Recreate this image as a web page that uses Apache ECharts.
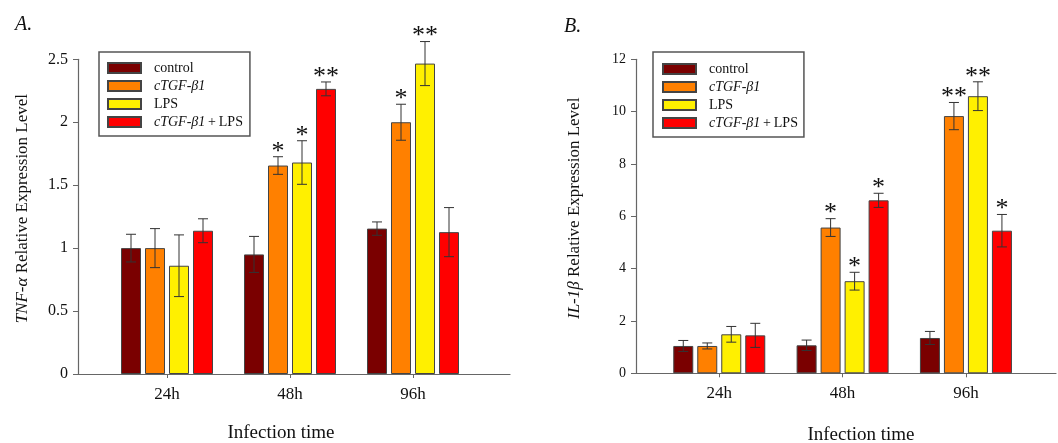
<!DOCTYPE html>
<html>
<head>
<meta charset="utf-8">
<script src="https://cdn.jsdelivr.net/npm/echarts@6/dist/echarts.min.js"></script>
<style>
  html, body { margin: 0; padding: 0; background: #fff; }
  #chart { width: 1058px; height: 443px; }
</style>
</head>
<body>
<div id="chart"></div>
<script>
  // data
  var categories = ['24h', '48h', '96h'];
  var groupNames = ['control', 'cTGF-β1', 'LPS', 'cTGF-β1+LPS'];
  var groupColors = ['#7a0000', '#ff8000', '#fff000', '#ff0000'];

  // A. TNF-alpha
  var tnfControl = [1.00, 0.95, 1.155];
  var tnfControlErr = [0.11, 0.143, 0.053];
  var tnfCtgf = [1.00, 1.656, 2.00];
  var tnfCtgfErr = [0.155, 0.07, 0.143];
  var tnfLps = [0.86, 1.68, 2.466];
  var tnfLpsErr = [0.245, 0.173, 0.175];
  var tnfCombo = [1.138, 2.265, 1.127];
  var tnfComboErr = [0.095, 0.055, 0.195];
  var tnfSig = [['', '', ''], ['', '*', '*'], ['', '*', '**'], ['', '**', '']];
  var tnfTicks = [0, 0.5, 1, 1.5, 2, 2.5];

  // B. IL-1beta
  var ilControl = [1.045, 1.07, 1.35];
  var ilControlErr = [0.21, 0.2, 0.25];
  var ilCtgf = [1.045, 5.57, 9.83];
  var ilCtgfErr = [0.115, 0.34, 0.52];
  var ilLps = [1.49, 3.52, 10.59];
  var ilLpsErr = [0.3, 0.34, 0.55];
  var ilCombo = [1.45, 6.61, 5.45];
  var ilComboErr = [0.46, 0.27, 0.62];
  var ilSig = [['', '', ''], ['', '*', '**'], ['', '*', '**'], ['', '*', '*']];
  var ilTicks = [0, 2, 4, 6, 8, 10, 12];

  var serif = "'Liberation Serif', 'Times New Roman', serif";
  var axisColor = '#666';
  var BAR_W = 20, BAR_STEP = 24;

  function legendFormatter(name) {
    if (name === 'cTGF-β1') return '{i|cTGF-β1}';
    if (name === 'cTGF-β1+LPS') return '{i|cTGF-β1}{n|\u2009+\u2009LPS}';
    return '{n|' + name + '}';
  }

  function errorBarSeries(name, xIdx, yIdx, k, vals, errs, sigs) {
    var data = vals.map(function (v, i) { return [i, v, errs[i], sigs[i]]; });
    return {
      type: 'custom',
      name: name + ' err',
      xAxisIndex: xIdx,
      yAxisIndex: yIdx,
      z: 5,
      silent: true,
      data: data,
      renderItem: function (params, api) {
        var v = api.value(1), e = api.value(2);
        var sig = data[params.dataIndex][3];
        var top = api.coord([api.value(0), v + e]);
        var bot = api.coord([api.value(0), v - e]);
        var x = top[0] + (k - 1.5) * BAR_STEP;
        var st = { stroke: '#333', lineWidth: 1 };
        var kids = [
          { type: 'line', shape: { x1: x, y1: top[1], x2: x, y2: bot[1] }, style: st },
          { type: 'line', shape: { x1: x - 5, y1: top[1], x2: x + 5, y2: top[1] }, style: st },
          { type: 'line', shape: { x1: x - 5, y1: bot[1], x2: x + 5, y2: bot[1] }, style: st }
        ];
        if (sig) {
          kids.push({
            type: 'text',
            style: {
              x: x, y: top[1] - 5, text: sig, fill: '#111',
              font: '26px ' + serif, align: 'center', verticalAlign: 'middle'
            }
          });
        }
        return { type: 'group', children: kids };
      }
    };
  }

  function panel(prefix, xIdx, yIdx, sets, errs, sigs) {
    var out = [];
    sets.forEach(function (vals, k) {
      out.push({
        type: 'bar',
        name: groupNames[k],
        xAxisIndex: xIdx,
        yAxisIndex: yIdx,
        barWidth: BAR_W,
        barGap: '20%',
        itemStyle: { color: groupColors[k], borderColor: '#444', borderWidth: 1 },
        data: vals
      });
    });
    sets.forEach(function (vals, k) {
      out.push(errorBarSeries(prefix + groupNames[k], xIdx, yIdx, k, vals, errs[k], sigs[k]));
    });
    return out;
  }

  function legendFor(left, top, padding) {
    return {
      data: groupNames,
      orient: 'vertical',
      left: left,
      top: top,
      icon: 'rect',
      itemWidth: 33,
      itemHeight: 10,
      itemGap: 4,
      padding: padding,
      borderColor: '#555',
      borderWidth: 1.5,
      selectedMode: false,
      formatter: legendFormatter,
      textStyle: {
        fontFamily: serif, fontSize: 14, color: '#111', lineHeight: 14,
        padding: [0, 0, 0, 8],
        rich: {
          i: { fontFamily: serif, fontSize: 14, fontStyle: 'italic', color: '#111', lineHeight: 14 },
          n: { fontFamily: serif, fontSize: 14, color: '#111', lineHeight: 14 }
        }
      }
    };
  }

  function valueYAxis(grid, ticks, fontSize, name, nameGap) {
    return {
      type: 'value',
      gridIndex: grid,
      min: ticks[0],
      max: ticks[ticks.length - 1],
      interval: ticks[1] - ticks[0],
      splitLine: { show: false },
      axisLine: { show: true, lineStyle: { color: axisColor, width: 1.2 } },
      axisTick: { show: true, length: 5, lineStyle: { color: axisColor } },
      axisLabel: { fontFamily: serif, fontSize: fontSize, color: '#111', margin: 10 },
      name: name,
      nameLocation: 'middle',
      nameGap: nameGap,
      nameRotate: 90,
      nameTextStyle: {
        fontFamily: serif, fontSize: 17, color: '#111', padding: [0, 0, 0, 16],
        rich: { i: { fontFamily: serif, fontSize: 17, fontStyle: 'italic', color: '#111' } }
      }
    };
  }

  function hiddenYAxis(grid, ticks) {
    return {
      type: 'value', gridIndex: grid, show: false,
      min: ticks[0], max: ticks[ticks.length - 1], interval: ticks[1] - ticks[0]
    };
  }

  function lineXAxis(grid, namePad, nameGap) {
    return {
      type: 'value', gridIndex: grid, min: 0, max: 1,
      axisLine: { show: true, onZero: false, lineStyle: { color: axisColor, width: 1.2 } },
      axisTick: { show: false }, axisLabel: { show: false }, splitLine: { show: false },
      name: 'Infection time', nameLocation: 'middle', nameGap: nameGap,
      nameTextStyle: { fontFamily: serif, fontSize: 19, color: '#111', padding: namePad }
    };
  }

  function catXAxis(grid) {
    return {
      type: 'category', gridIndex: grid, data: categories,
      axisLine: { show: false },
      axisTick: { show: true, alignWithLabel: true, length: 4, lineStyle: { color: axisColor } },
      axisLabel: { fontFamily: serif, fontSize: 17, color: '#111', margin: 12 }
    };
  }

  function gridAt(left, right, bottom) {
    return { left: left, right: right, top: 59.3, bottom: bottom, outerBoundsMode: 'none', containLabel: false };
  }

  var chart = echarts.init(document.getElementById('chart'), null, { renderer: 'canvas' });

  var titleStyle = { fontFamily: serif, fontSize: 20, fontStyle: 'italic', fontWeight: 'normal', color: '#111' };

  var option = {
    backgroundColor: '#fff',
    animation: false,
    title: [
      { text: 'A.', left: 15, top: 15, padding: 0, textStyle: titleStyle },
      { text: 'B.', left: 564, top: 17, padding: 0, textStyle: titleStyle }
    ],
    legend: [
      legendFor(99, 52, [9, 7, 7, 8]),
      legendFor(653, 52, [10, 6, 7, 9])
    ],
    grid: [
      gridAt(78, 548, 69),
      gridAt(105.5, 583.5, 69),
      gridAt(636, 2, 69.7),
      gridAt(657.6, 30.4, 69.7)
    ],
    xAxis: [
      lineXAxis(0, [0, 26, 0, 0], 50),
      catXAxis(1),
      lineXAxis(2, [0, 0, 0, 30], 52),
      catXAxis(3)
    ],
    yAxis: [
      valueYAxis(0, tnfTicks, 16, '{i|TNF-α} Relative Expression Level', 47),
      hiddenYAxis(1, tnfTicks),
      valueYAxis(2, ilTicks, 14, '{i|IL-1β} Relative Expression Level', 53),
      hiddenYAxis(3, ilTicks)
    ],
    series: [].concat(
      panel('A ', 1, 1,
        [tnfControl, tnfCtgf, tnfLps, tnfCombo],
        [tnfControlErr, tnfCtgfErr, tnfLpsErr, tnfComboErr], tnfSig),
      panel('B ', 3, 3,
        [ilControl, ilCtgf, ilLps, ilCombo],
        [ilControlErr, ilCtgfErr, ilLpsErr, ilComboErr], ilSig)
    )
  };

  chart.setOption(option);
</script>
</body>
</html>
